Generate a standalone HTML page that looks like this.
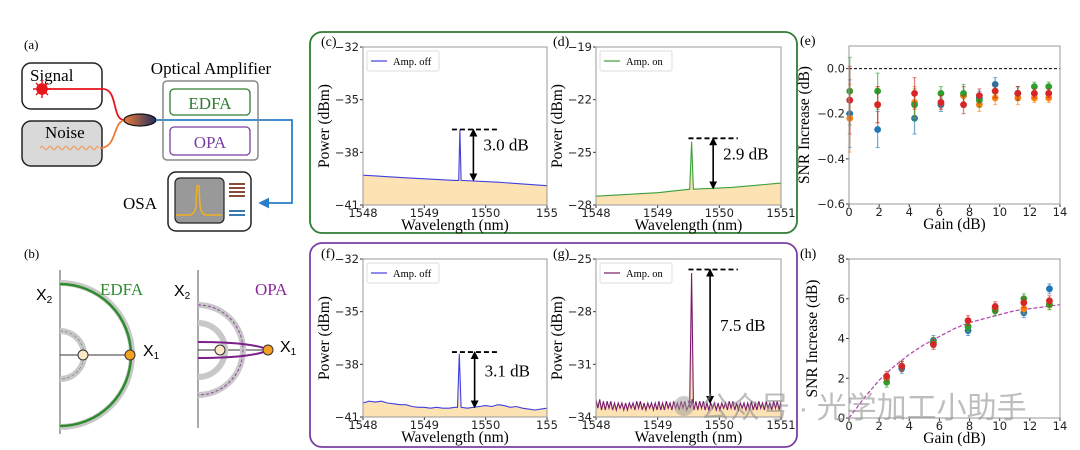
<!DOCTYPE html>
<html><head><meta charset="utf-8">
<style>
html,body{margin:0;padding:0;background:#fff;}
svg{display:block;}
.serif{font-family:"Liberation Serif",serif;}
.tick{font-family:"DejaVu Sans","Liberation Sans",sans-serif;font-size:11.5px;fill:#222;}
</style></head>
<body>
<svg id="fig" width="1080" height="450" viewBox="0 0 1080 450" xmlns="http://www.w3.org/2000/svg">
<defs>
<linearGradient id="cg" x1="0" x2="1" y1="0" y2="0"><stop offset="0" stop-color="#f07a3a"/><stop offset="1" stop-color="#1f2f5e"/></linearGradient>
<marker id="ah" markerWidth="5" markerHeight="5" refX="2.5" refY="2.5" orient="auto-start-reverse"><path d="M0,0 L5,2.5 L0,5 z" fill="#000"/></marker>
<marker id="bh" markerWidth="6" markerHeight="6" refX="5" refY="3" orient="auto"><path d="M0,0 L6,3 L0,6 z" fill="#2a7fc8"/></marker>
</defs>

<!-- (a) schematic -->
<g class="serif">
<text x="24" y="49" font-size="13">(a)</text>
<rect x="22" y="63" width="80" height="46" rx="9" fill="#fff" stroke="#222" stroke-width="1.5"/>
<text x="30" y="81" font-size="17">Signal</text>
<g stroke="#e8141b" stroke-width="1.5">
<line x1="33" y1="89" x2="51" y2="89"/><line x1="42" y1="80" x2="42" y2="98"/><line x1="36" y1="83" x2="48" y2="95"/><line x1="48" y1="83" x2="36" y2="95"/>
<circle cx="42" cy="89" r="5" fill="#e8141b"/></g>
<path d="M47,89 L103,89 C118,89 112,120 124,120" fill="none" stroke="#e8141b" stroke-width="1.8"/>
<rect x="22" y="121" width="80" height="45" rx="9" fill="#d9d9d9" stroke="#222" stroke-width="1.5"/>
<text x="45" y="138" font-size="17">Noise</text>
<path d="M40,148 q2,-3 4,0 t4,0 t4,0 t4,0 t4,0 t4,0 t4,0 t4,0 t4,0 t4,0 t4,0 t4,0 t4,0 t4,0 t2,0" fill="none" stroke="#f2965a" stroke-width="1.5" opacity="0.8"/>
<path d="M100,148 C118,148 112,120 126,120" fill="none" stroke="#ee7a3a" stroke-width="1.8"/>
<ellipse cx="140" cy="120" rx="16" ry="6" fill="url(#cg)" stroke="#111" stroke-width="1.2"/>
<path d="M156,120 L292,120 L292,203 L260,203" fill="none" stroke="#2a7fc8" stroke-width="1.8" marker-end="url(#bh)"/>
<text x="211" y="74" font-size="17" text-anchor="middle">Optical Amplifier</text>
<rect x="163" y="81" width="95" height="79" rx="4" fill="none" stroke="#888" stroke-width="1.5"/>
<rect x="170" y="89" width="80" height="26" rx="4" fill="#fff" stroke="#2e7d32" stroke-width="1.3"/>
<text x="210" y="109" font-size="17" fill="#2e7d32" text-anchor="middle">EDFA</text>
<rect x="170" y="127" width="80" height="28" rx="4" fill="#fff" stroke="#7b3fa0" stroke-width="1.3"/>
<text x="210" y="148" font-size="17" fill="#7b3fa0" text-anchor="middle">OPA</text>
<rect x="168" y="172" width="83" height="59" rx="8" fill="#fff" stroke="#222" stroke-width="1.5"/>
<rect x="175" y="178" width="49" height="45" rx="5" fill="#999" stroke="#222" stroke-width="1.2"/>
<path d="M176,215 L190,215 Q195,214 196,205 L197,186 L199,186 L200,205 Q201,214 206,215 L222,215" fill="none" stroke="#f0b020" stroke-width="1.5"/>
<g>
<rect x="229" y="183" width="16" height="2" fill="#8a4a3a"/><rect x="229" y="187" width="16" height="2" fill="#8a4a3a"/><rect x="229" y="191" width="16" height="2" fill="#8a4a3a"/><rect x="229" y="195" width="16" height="2" fill="#8a4a3a"/>
<rect x="229" y="210" width="16" height="2" fill="#3a7ab0"/><rect x="229" y="214" width="16" height="2" fill="#3a7ab0"/></g>
<text x="123" y="209" font-size="17">OSA</text>
</g>

<!-- (b) phase space -->
<g class="serif">
<text x="24" y="258" font-size="13">(b)</text>
<line x1="60" y1="270" x2="60" y2="434" stroke="#555" stroke-width="1"/>
<line x1="60" y1="355" x2="130" y2="355" stroke="#333" stroke-width="1"/>
<path d="M60,283 A72,72 0 0 1 60,427" fill="none" stroke="#c8c8c8" stroke-width="6"/>
<path d="M60,284 A71,71 0 0 1 60,426" fill="none" stroke="#2e8b2e" stroke-width="2.5"/>
<path d="M60,331 A24,24 0 0 1 60,379" fill="none" stroke="#c8c8c8" stroke-width="6"/>
<path d="M60,331 A24,24 0 0 1 60,379" fill="none" stroke="#888" stroke-width="0.8" stroke-dasharray="3,2"/>
<circle cx="83" cy="355" r="5" fill="#fde9c8" stroke="#333"/>
<circle cx="130" cy="355" r="5" fill="#f5a020" stroke="#333"/>
<text x="36" y="300" font-size="16" font-family="Liberation Sans,sans-serif">X<tspan font-size="10" dy="3">2</tspan></text>
<text x="100" y="295" font-size="17" fill="#2e8b2e">EDFA</text>
<text x="143" y="356" font-size="16" font-family="Liberation Sans,sans-serif">X<tspan font-size="10" dy="3">1</tspan></text>

<line x1="198" y1="270" x2="198" y2="428" stroke="#555" stroke-width="1"/>
<line x1="198" y1="350" x2="268" y2="350" stroke="#333" stroke-width="1"/>
<path d="M198,305 A45,45 0 0 1 198,395" fill="none" stroke="#c8c8c8" stroke-width="6"/>
<path d="M198,305 A45,45 0 0 1 198,395" fill="none" stroke="#8a3a9a" stroke-width="0.9" stroke-dasharray="3,2"/>
<path d="M198,323 A27,27 0 0 1 198,377" fill="none" stroke="#c8c8c8" stroke-width="6"/>
<path d="M198,342 C240,342 262,346 268,350 C262,354 240,358 198,358" fill="none" stroke="#7b1f8a" stroke-width="2"/>
<circle cx="220" cy="350" r="5" fill="#fde9c8" stroke="#333"/>
<circle cx="268" cy="350" r="5" fill="#f5a020" stroke="#333"/>
<text x="174" y="296" font-size="16" font-family="Liberation Sans,sans-serif">X<tspan font-size="10" dy="3">2</tspan></text>
<text x="255" y="295" font-size="17" fill="#8a2a9a">OPA</text>
<text x="280" y="352" font-size="16" font-family="Liberation Sans,sans-serif">X<tspan font-size="10" dy="3">1</tspan></text>
</g>

<rect x="310" y="32" width="487" height="201" rx="12" fill="none" stroke="#2e7d32" stroke-width="1.8"/>
<rect x="310" y="243" width="487" height="204" rx="12" fill="none" stroke="#7b3fa0" stroke-width="1.8"/>
<g id="plots"></g>
<circle cx="684" cy="406" r="10" fill="#999" opacity="0.5"/>
<text x="700" y="418" font-size="30" fill="#888" opacity="0.55" font-family="Liberation Sans,'Noto Sans CJK SC',sans-serif">公众号 · 光学加工小助手</text>
</svg>

<script>
// ---- spectra data ----
const wlC=[1548,1548.7,1549.5,1549.56,1549.58,1549.6,1550.2,1551];
const pwC=[-39.3,-39.45,-39.6,-39.6,-36.7,-39.6,-39.7,-39.9];
const wlD=[1548,1549.0,1549.52,1549.55,1549.58,1550.2,1551];
const pwD=[-27.5,-27.3,-27.1,-24.4,-27.1,-27.0,-26.75];
const wlF=[1548,1548.1,1548.2,1548.3,1548.4,1548.5,1548.6,1548.7,1548.8,1548.9,1549.0,1549.1,1549.2,1549.3,1549.4,1549.5,1549.54,1549.57,1549.6,1549.7,1549.8,1549.9,1550.0,1550.1,1550.2,1550.3,1550.4,1550.5,1550.6,1550.7,1550.8,1550.9,1551];
const pwF=[-40.2,-40.1,-40.15,-40.1,-40.2,-40.25,-40.3,-40.3,-40.4,-40.45,-40.45,-40.5,-40.45,-40.5,-40.5,-40.45,-40.45,-37.4,-40.45,-40.5,-40.45,-40.4,-40.35,-40.4,-40.3,-40.35,-40.45,-40.4,-40.5,-40.55,-40.6,-40.55,-40.5];
const pwG=[-33.0,-33.5,-33.0,-33.6,-33.1,-33.6,-33.1,-33.5,-33.1,-33.6,-33.2,-33.6,-33.2,-33.5,-33.2,-33.6,-33.2,-33.6,-33.2,-33.5,-33.2,-33.6,-33.1,-33.5,-33.1,-33.6,-33.2,-33.6,-33.2,-33.5,-33.2,-33.6,-33.2,-33.6,-33.1,-33.6,-33.2,-33.6,-33.1,-33.5,-33.2,-33.6,-33.1,-33.5,-33.2,-33.6,-33.1,-33.5,-33.1,-33.6,
-33.1,-33.5,-33.0,-33.6,-33.1,-33.6,-33.1,-33.5,-33.1,-33.6,-33.2,-33.6,-33.2,-33.5,-33.2,-33.6,-33.2,-33.6,-33.2,-33.5,-33.2,-33.6,-33.1,-33.5,-33.1,-33.6,-33.2,-33.6,-33.2,-33.5,-33.2,-33.6,-33.2,-33.6,-33.1,-33.6,-33.2,-33.6,-33.1,-33.5,-33.2,-33.6,-33.1,-33.5,-33.2,-33.6,-33.1,-33.5,-33.1,-33.6,-33.1];
const peakG=[1549.55,-25.8];
// ---- (e) data ----
const eX=[0.05,1.9,4.35,6.1,7.6,8.65,9.7,11.2,12.3,13.25];
const eBlue=[-0.20,-0.27,-0.22,-0.16,-0.12,-0.13,-0.07,-0.11,-0.11,-0.11];
const eOrange=[-0.22,-0.16,-0.15,-0.15,-0.12,-0.16,-0.13,-0.13,-0.13,-0.13];
const eGreen=[-0.10,-0.10,-0.16,-0.11,-0.11,-0.14,-0.10,-0.11,-0.08,-0.08];
const eRed=[-0.14,-0.16,-0.11,-0.15,-0.16,-0.12,-0.10,-0.11,-0.11,-0.11];
const eErr=[0.15,0.08,0.07,0.03,0.04,0.03,0.03,0.03,0.02,0.02];
// ---- (h) data ----
const hX=[2.5,3.5,5.6,7.9,9.7,11.6,13.3];
const hBlue=[2.0,2.5,3.9,4.4,5.5,5.3,6.5];
const hOrange=[2.0,2.6,3.8,4.6,5.5,5.5,5.7];
const hGreen=[1.8,2.6,3.8,4.6,5.4,6.0,5.7];
const hRed=[2.1,2.6,3.7,4.9,5.6,5.8,5.9];
const hErr=[0.25,0.25,0.25,0.25,0.25,0.25,0.25];
const fitX=[0,1,2,3,4,5,6,7,8,9,10,11,12,13,14];
const fitY=[0,1.0,1.9,2.6,3.2,3.7,4.1,4.5,4.8,5.0,5.2,5.4,5.5,5.6,5.7];
const ticksWl=[1548,1549,1550,1551];

const NS="http://www.w3.org/2000/svg";
const root=document.getElementById('plots');
function mk(tag,attrs,parent){const e=document.createElementNS(NS,tag);for(const k in attrs)e.setAttribute(k,attrs[k]);(parent||root).appendChild(e);return e;}
function axes(o){
  const g=mk('g',{});
  
  
  const sx=v=>o.x0+(v-o.xmin)/(o.xmax-o.xmin)*(o.x1-o.x0);
  const sy=v=>o.y1-(v-o.ymin)/(o.ymax-o.ymin)*(o.y1-o.y0);
  o.g=g;o.sx=sx;o.sy=sy;
  o.xticks.forEach((t,i)=>{const x=sx(t);
    mk('line',{x1:x,x2:x,y1:o.y1,y2:o.y1+3,stroke:'#333'},g);
    const tx=mk('text',{x:x,y:o.y1+12,'text-anchor':'middle',class:'tick'},g);tx.textContent=o.xlab?o.xlab[i]:t;
    
    });
  o.yticks.forEach(t=>{const y=sy(t);
    mk('line',{x1:o.x0-3,x2:o.x0,y1:y,y2:y,stroke:'#333'},g);
    const tx=mk('text',{x:o.x0-4,y:y+4,'text-anchor':'end',class:'tick'},g);tx.textContent=(t<0?'\u2212':'')+Math.abs(t).toFixed(o.yd||0);
    
    });
  const xt=mk('text',{x:(o.x0+o.x1)/2,y:o.y1+25,'text-anchor':'middle',class:'serif','font-size':15.5},g);xt.textContent=o.xtitle;
  
  
  const yx=o.x0-(o.ytx||30), yy=(o.y0+o.y1)/2;
  const yt=mk('text',{x:yx,y:yy,'text-anchor':'middle',class:'serif','font-size':15.5,transform:`rotate(-90 ${yx} ${yy})`},g);yt.textContent=o.ytitle;
  
  
  const pl=mk('text',{x:o.plx,y:o.y0-1,class:'serif','font-size':14},g);pl.textContent=o.label;
  
  
  return o;
}
function frame(o){const r=mk('rect',{x:o.x0,y:o.y0,width:o.x1-o.x0,height:o.y1-o.y0,fill:'none',stroke:'#999','stroke-width':1},o.g);
  
  }
function spectrum(o,xs,ys,color,leg,ann){
  let d='',pts=xs.map((x,i)=>[o.sx(Math.max(o.xmin,Math.min(o.xmax,x))),o.sy(ys[i])]);
  pts.forEach((p,i)=>d+=(i?'L':'M')+p[0].toFixed(1)+','+p[1].toFixed(1));
  const f=mk('path',{d:d+`L${o.x1},${o.y1}L${o.x0},${o.y1}Z`,fill:'#fde2b4'},o.g);
  
  
  const l=mk('path',{d:d,fill:'none',stroke:color,'stroke-width':1.1},o.g);
  
  
  frame(o);
  const lg=mk('g',{},o.g);
  
  
  mk('rect',{x:o.x0+4,y:o.y0+4,width:72,height:20,rx:2,fill:'#fff',stroke:'#ddd'},lg);
  mk('line',{x1:o.x0+8,x2:o.x0+24,y1:o.y0+14,y2:o.y0+14,stroke:color,'stroke-width':1.2},lg);
  const lt=mk('text',{x:o.x0+30,y:o.y0+18,class:'serif','font-size':10.5},lg);lt.textContent=leg;
  const a=mk('g',{},o.g);
  
  
  mk('line',{x1:o.sx(ann.x0),x2:o.sx(ann.x1),y1:o.sy(ann.top),y2:o.sy(ann.top),stroke:'#000','stroke-width':1.8,'stroke-dasharray':'5,3'},a);
  mk('line',{x1:o.sx(ann.ax),x2:o.sx(ann.ax),y1:o.sy(ann.top)+3,y2:o.sy(ann.bot)-3,stroke:'#000','stroke-width':1.6,'marker-start':'url(#ah)','marker-end':'url(#ah)'},a);
  const t=mk('text',{x:o.sx(ann.ax)+10,y:o.sy(ann.ty),class:'serif','font-size':17},a);t.textContent=ann.txt;
}
const wlLab=['1548','1549','1550','155'];
const pc=axes({name:'chart-c',x0:363,x1:547,y0:47,y1:205,xmin:1548,xmax:1551,ymin:-41,ymax:-32,xticks:ticksWl,xlab:wlLab,yticks:[-32,-35,-38,-41],xtitle:'Wavelength (nm)',ytitle:'Power (dBm)',label:'(c)',plx:321,ytx:34});
spectrum(pc,wlC,pwC,'#4040e0','Amp. off',{x0:1549.45,x1:1550.2,top:-36.7,ax:1549.8,bot:-39.6,ty:-37.9,txt:'3.0 dB'});
const pd=axes({name:'chart-d',x0:596,x1:781,y0:47,y1:205,xmin:1548,xmax:1551,ymin:-28,ymax:-19,xticks:ticksWl,yticks:[-19,-22,-25,-28],xtitle:'Wavelength (nm)',ytitle:'Power (dBm)',label:'(d)',plx:553,ytx:34});
spectrum(pd,wlD,pwD,'#3aa03a','Amp. on',{x0:1549.5,x1:1550.3,top:-24.2,ax:1549.9,bot:-27.05,ty:-25.4,txt:'2.9 dB'});
const pf=axes({name:'chart-f',x0:363,x1:547,y0:259,y1:417,xmin:1548,xmax:1551,ymin:-41,ymax:-32,xticks:ticksWl,xlab:wlLab,yticks:[-32,-35,-38,-41],xtitle:'Wavelength (nm)',ytitle:'Power (dBm)',label:'(f)',plx:321,ytx:34});
spectrum(pf,wlF,pwF,'#4040e0','Amp. off',{x0:1549.45,x1:1550.2,top:-37.3,ax:1549.82,bot:-40.45,ty:-38.7,txt:'3.1 dB'});
const wlG=[],pG=[];
pwG.forEach((v,i)=>{const w=1548+i*3/(pwG.length-1);
  if(w>=1549.5 && wlG.length && wlG[wlG.length-1]<1549.5){wlG.push(1549.52,peakG[0],1549.58);pG.push(-33.2,peakG[1],-33.2);}
  wlG.push(w);pG.push(v);});
const pg=axes({name:'chart-g',x0:596,x1:781,y0:259,y1:417,xmin:1548,xmax:1551,ymin:-34,ymax:-25,xticks:ticksWl,yticks:[-25,-28,-31,-34],xtitle:'Wavelength (nm)',ytitle:'Power (dBm)',label:'(g)',plx:553,ytx:34});
spectrum(pg,wlG,pG,'#7a1a6a','Amp. on',{x0:1549.5,x1:1550.3,top:-25.6,ax:1549.85,bot:-33.2,ty:-29.1,txt:'7.5 dB'});

const cols=['#1f77b4','#ff7f0e','#2ca02c','#d62728'];
const names=['blue','orange','green','red'];
function scatter(o,xs,series,err){
  series.forEach((s,k)=>{
    const g=mk('g',{},o.g);
    
    
    s.forEach((v,i)=>{const x=o.sx(xs[i]),y=o.sy(v),e=Math.abs(o.sy(v+err[i])-y);
      mk('line',{x1:x,x2:x,y1:y-e,y2:y+e,stroke:cols[k],'stroke-width':1.3,opacity:0.6},g);
      mk('line',{x1:x-2,x2:x+2,y1:y-e,y2:y-e,stroke:cols[k],opacity:0.6},g);
      mk('line',{x1:x-2,x2:x+2,y1:y+e,y2:y+e,stroke:cols[k],opacity:0.6},g);
      const c=mk('circle',{cx:x,cy:y,r:3.4,fill:cols[k]},g);
      
      });
  });
}
const ticksG=[0,2,4,6,8,10,12,14];
const pe=axes({name:'chart-e',x0:849,x1:1060,y0:46,y1:204,xmin:0,xmax:14,ymin:-0.6,ymax:0.1,xticks:ticksG,yticks:[0,-0.2,-0.4,-0.6],yd:1,xtitle:'Gain (dB)',ytitle:'SNR Increase (dB)',label:'(e)',plx:800,ytx:40});
mk('line',{x1:849,x2:1060,y1:pe.sy(0),y2:pe.sy(0),stroke:'#000','stroke-width':1,'stroke-dasharray':'3,2'},pe.g);
scatter(pe,eX,[eBlue,eOrange,eGreen,eRed],eErr);
frame(pe);
const ph=axes({name:'chart-h',x0:849,x1:1060,y0:259,y1:418,xmin:0,xmax:14,ymin:0,ymax:8,xticks:ticksG,yticks:[0,2,4,6,8],xtitle:'Gain (dB)',ytitle:'SNR Increase (dB)',label:'(h)',plx:800,ytx:32});
let fd='';fitX.forEach((x,i)=>fd+=(i?'L':'M')+ph.sx(x).toFixed(1)+','+ph.sy(fitY[i]).toFixed(1));
const fit=mk('path',{d:fd,fill:'none',stroke:'#b040b0','stroke-width':1.2,'stroke-dasharray':'4,2'},ph.g);


scatter(ph,hX,[hBlue,hOrange,hGreen,hRed],hErr);
frame(ph);
</script>
</body></html>
